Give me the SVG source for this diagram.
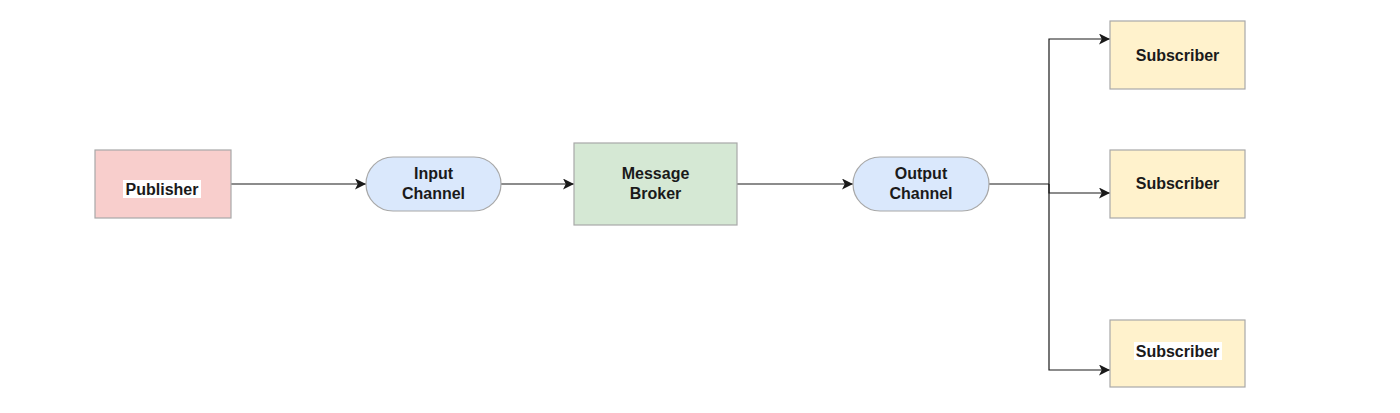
<svg xmlns="http://www.w3.org/2000/svg" width="1400" height="413" viewBox="0 0 1400 413">
<defs>
<marker id="arr" viewBox="0 0 10 10" refX="10" refY="5" markerWidth="11" markerHeight="11" markerUnits="userSpaceOnUse" orient="auto">
<path d="M0,0 L10,5 L0,10 L2.5,5 Z" fill="#1a1a1a"/>
</marker>
<style>
.n{stroke:#a8a8a8;stroke-width:1.2}
.t{font-family:"Liberation Sans",Arial,sans-serif;font-weight:bold;font-size:16px;fill:#1a1a1a;text-anchor:middle}
.c{fill:none;stroke:#1a1a1a;stroke-width:1.2}
.hl{fill:#ffffff}
</style>
</defs>
<rect width="1400" height="413" fill="#ffffff"/>
<g id="connectors">
<path class="c" d="M231,184 H366" marker-end="url(#arr)"/>
<path class="c" d="M501,184 H574" marker-end="url(#arr)"/>
<path class="c" d="M737,184 H853" marker-end="url(#arr)"/>
<path class="c" d="M989,184 H1049"/>
<path class="c" d="M1049,184 V39 H1110" marker-end="url(#arr)"/>
<path class="c" d="M1049,184 V193 H1110" marker-end="url(#arr)"/>
<path class="c" d="M1049,184 V370 H1110" marker-end="url(#arr)"/>
</g>
<g id="publisher">
<rect class="n" x="95" y="150" width="136" height="68" fill="#f8cecc"/>
<rect class="hl" x="123" y="180" width="78" height="18"/>
<text class="t" x="162" y="195">Publisher</text>
</g>
<g id="input-channel">
<rect class="n" x="366" y="157" width="135" height="54" rx="27" fill="#dae8fc"/>
<text class="t" x="433.5" y="179">Input</text>
<text class="t" x="433.5" y="199">Channel</text>
</g>
<g id="message-broker">
<rect class="n" x="574" y="143" width="163" height="82" fill="#d5e8d4"/>
<text class="t" x="655.5" y="179">Message</text>
<text class="t" x="655.5" y="199">Broker</text>
</g>
<g id="output-channel">
<rect class="n" x="853" y="157" width="136" height="54" rx="27" fill="#dae8fc"/>
<text class="t" x="921" y="179">Output</text>
<text class="t" x="921" y="199">Channel</text>
</g>
<g id="subscriber-1">
<rect class="n" x="1110" y="21" width="135" height="68" fill="#fff2cc"/>
<text class="t" x="1177.5" y="61">Subscriber</text>
</g>
<g id="subscriber-2">
<rect class="n" x="1110" y="150" width="135" height="68" fill="#fff2cc"/>
<text class="t" x="1177.5" y="189">Subscriber</text>
</g>
<g id="subscriber-3">
<rect class="n" x="1110" y="320" width="135" height="67" fill="#fff2cc"/>
<rect class="hl" x="1134" y="342" width="88" height="18"/>
<text class="t" x="1177.5" y="357">Subscriber</text>
</g>
</svg>
